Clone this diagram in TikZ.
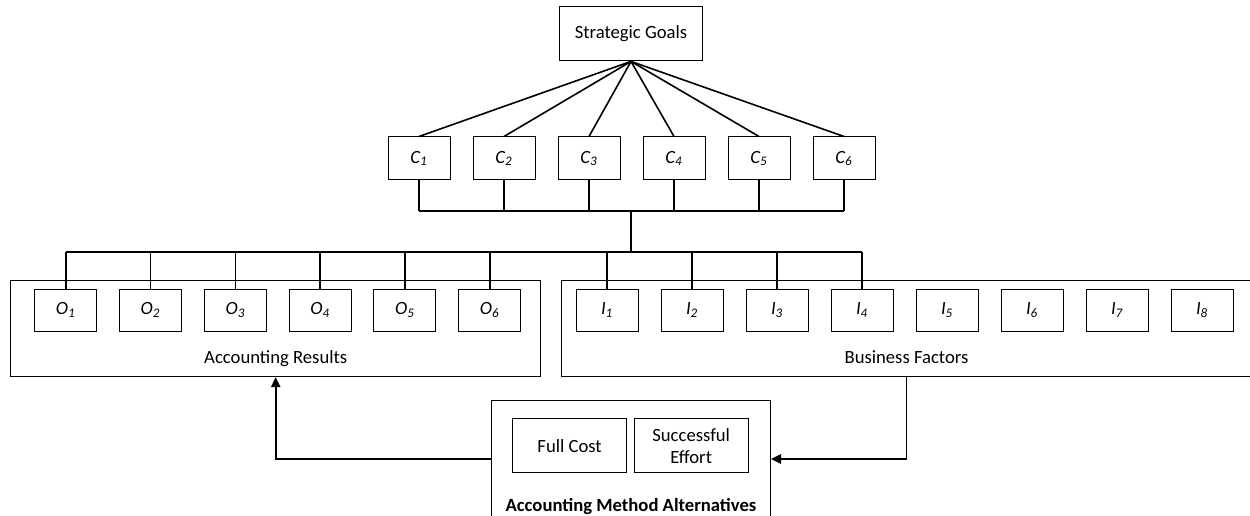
\documentclass[tikz,border=0pt]{standalone}
\usepackage{fontspec}
\setmainfont{Carlito}
\usetikzlibrary{arrows.meta}
\begin{document}
\begin{tikzpicture}[x=0.75pt,y=-0.75pt,
  txt/.style={font=\fontsize{14}{17}\selectfont, inner sep=0pt},
  box/.style={draw, line width=0.75pt, inner sep=0pt, font=\fontsize{14}{17}\selectfont},
  sbox/.style={box, minimum width=46.5pt, minimum height=31.8pt},
  conn/.style={line width=1.2pt},
  arr/.style={conn, -{Triangle[length=7.5pt,width=7pt]}}]
\useasboundingbox (0,0) rectangle (1250,516);
% top
\node[box, minimum width=107.5pt, minimum height=40.7pt] (SG) at (631,33.8) {Strategic Goals};
\foreach \i [evaluate=\i as \xx using 419+85*(\i-1)] in {1,...,6}
  \node[sbox, minimum height=32.25pt] (C\i) at (\xx,158.5) {\textit{C\textsubscript{\i}}};
% containers
\node[box, minimum width=397.5pt, minimum height=72.5pt] (AR) at (275.7,328.35) {};
\node[box, minimum width=525.4pt, minimum height=72.5pt] (BF) at (911.75,328.35) {};
\node[txt, anchor=base] (ARl) at (275.7,364) {Accounting Results};
\node[txt, anchor=base] (BFl) at (906.5,364) {Business Factors};
\foreach \i [evaluate=\i as \xx using 65.7+84.8*(\i-1)] in {1,...,6}
  \node[sbox] (O\i) at (\xx,310.3) {\textit{O\textsubscript{\i}}};
\foreach \i [evaluate=\i as \xx using 607+85*(\i-1)] in {1,...,8}
  \node[sbox] (I\i) at (\xx,310.3) {\textit{I\textsubscript{\i}}};
% alternatives
\node[box, minimum width=209.25pt, minimum height=87pt] (AMA) at (631,459) {};
\node[box, minimum width=85.6pt, minimum height=40.5pt] (FC) at (569.6,446) {Full Cost};
\node[box, minimum width=85.6pt, minimum height=40.5pt, align=center] (SE) at (691.2,446) {Successful\\Effort};
\node[txt, font=\fontsize{14}{17}\selectfont\bfseries, anchor=base] (AMAl) at (631,512) {Accounting Method Alternatives};
% connectors
\foreach \i in {1,...,6} \draw[conn] (SG.south) -- (C\i.north);
\coordinate (b1) at (631,211);
\coordinate (b2) at (631,252);
\foreach \i in {1,...,6} \draw[conn] (C\i.south) -- (C\i.south |- b1);
\draw[conn] (C1.south |- b1) -- (C6.south |- b1);
\draw[conn] (b1) -- (b2);
\draw[conn] (O1.north |- b2) -- (I4.north |- b2);
\foreach \i in {1,...,6} \draw[conn] (O\i.north |- b2) -- (O\i.north);
\foreach \i in {1,...,4} \draw[conn] (I\i.north |- b2) -- (I\i.north);
\draw[arr] (AMA.west) -| (ARl.base |- AR.south);
\draw[arr] (BFl.base |- BF.south) |- (AMA.east);
\end{tikzpicture}
\end{document}
